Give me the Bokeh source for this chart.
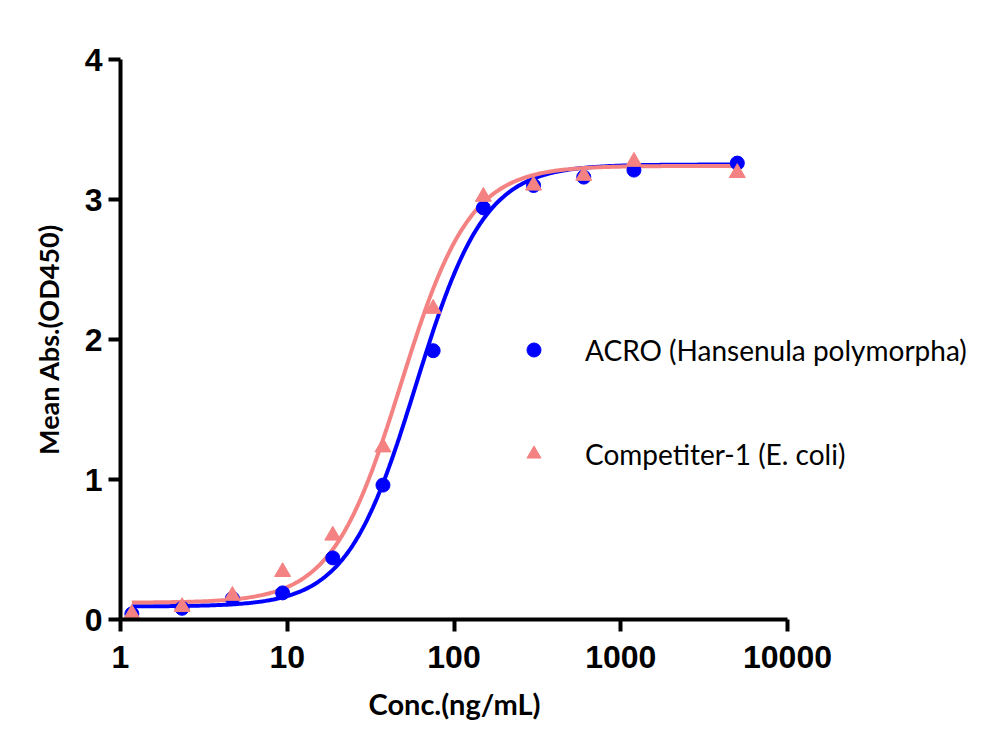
import numpy as np
from bokeh.plotting import figure
from bokeh.models import Legend, LegendItem, FixedTicker, Title
from bokeh.embed import file_html
from bokeh.resources import INLINE

# Data
conc = [1.17, 2.34, 4.69, 9.38, 18.75, 37.5, 75, 150, 300, 600, 1200, 5000]
acro = [0.04, 0.08, 0.15, 0.19, 0.44, 0.96, 1.92, 2.94, 3.10, 3.16, 3.21, 3.26]
comp = [0.04, 0.09, 0.17, 0.34, 0.60, 1.23, 2.22, 3.02, 3.10, 3.17, 3.27, 3.19]

# 4-parameter logistic fit parameters (bottom, top, EC50, hill)
acro_fit = (0.093, 3.25, 59.0, 2.1)
comp_fit = (0.12, 3.24, 48.0, 2.1)

x_ticks = [1, 10, 100, 1000, 10000]
y_ticks = [0, 1, 2, 3, 4]

labels = ["ACRO (Hansenula polymorpha)", "Competiter-1 (E. coli)"]
x_label = "Conc.(ng/mL)"
y_label = "Mean Abs.(OD450)"
BLUE = "#0000FF"
PINK = "#F48282"

# layout (pixels)
W, H = 984, 738
BL, BT = 120, 59
FRAME_H = 560
BB = H - BT - FRAME_H
AXIS_W = 667          # width of the drawn x axis (1 .. 10000)
FRAME_W = 857         # frame extends to the right to host the legend
BR = W - BL - FRAME_W
x_end = 10 ** (4 * FRAME_W / AXIS_W)


def four_pl(x, p):
    b, t, ec, h = p
    return b + (t - b) / (1 + (ec / x) ** h)


xs = np.logspace(np.log10(conc[0]), np.log10(conc[-1]), 300)

p = figure(x_axis_type="log", x_range=(1, x_end), y_range=(0, 4),
           width=W, height=H,
           min_border_left=BL, min_border_right=BR,
           min_border_top=BT, min_border_bottom=BB,
           output_backend="svg", toolbar_location=None)
p.outline_line_color = None
p.xgrid.grid_line_color = None
p.ygrid.grid_line_color = None
p.background_fill_color = "white"
p.border_fill_color = "white"

p.line(xs, four_pl(xs, acro_fit), line_color=BLUE, line_width=4)
p.line(xs, four_pl(xs, comp_fit), line_color=PINK, line_width=4)
r1 = p.scatter(conc, acro, marker="circle", size=14, fill_color=BLUE, line_color=BLUE)
r2 = p.scatter(conc, comp, marker="triangle", size=16, fill_color=PINK, line_color=PINK)

for ax in (p.xaxis[0], p.yaxis[0]):
    ax.axis_line_width = 4
    ax.axis_line_color = "black"
    ax.major_tick_line_width = 4
    ax.major_tick_line_color = "black"
    ax.major_tick_out = 12
    ax.major_tick_in = 0
    ax.minor_tick_line_color = None
    ax.major_label_text_font = "Liberation Sans"
    ax.major_label_text_font_style = "bold"
    ax.major_label_text_font_size = "32px"
    ax.major_label_text_color = "black"

p.xaxis[0].ticker = FixedTicker(ticks=x_ticks)
p.xaxis[0].bounds = (x_ticks[0], x_ticks[-1])
p.xaxis[0].major_label_overrides = {t: str(t) for t in x_ticks}
p.yaxis[0].ticker = FixedTicker(ticks=y_ticks)
p.xaxis[0].major_label_standoff = 14
p.yaxis[0].major_label_standoff = 6

yax = p.yaxis[0]
yax.axis_label = y_label
yax.axis_label_text_font = "Lato"
yax.axis_label_text_font_style = "bold"
yax.axis_label_text_font_size = "27px"
yax.axis_label_text_color = "black"
yax.axis_label_standoff = 17

# x-axis label centred under the drawn axis (1 .. 10000), not the whole frame
xt = Title(text=x_label, align="left", offset=248,
           text_font="Lato", text_font_style="bold", text_font_size="29px",
           text_color="black", standoff=26)
p.add_layout(xt, "below")

legend = Legend(items=[LegendItem(label=labels[0], renderers=[r1]),
                       LegendItem(label=labels[1], renderers=[r2])],
                location=(396, 148))
legend.border_line_color = None
legend.background_fill_alpha = 0
legend.padding = 0
legend.margin = 0
legend.glyph_width = 35
legend.glyph_height = 35
legend.label_standoff = 34
legend.label_height = 35
legend.spacing = 69
legend.label_text_font = "Lato"
legend.label_text_font_size = "28px"
legend.label_text_color = "black"
p.add_layout(legend)

open("out.html", "w").write(file_html(p, INLINE))
